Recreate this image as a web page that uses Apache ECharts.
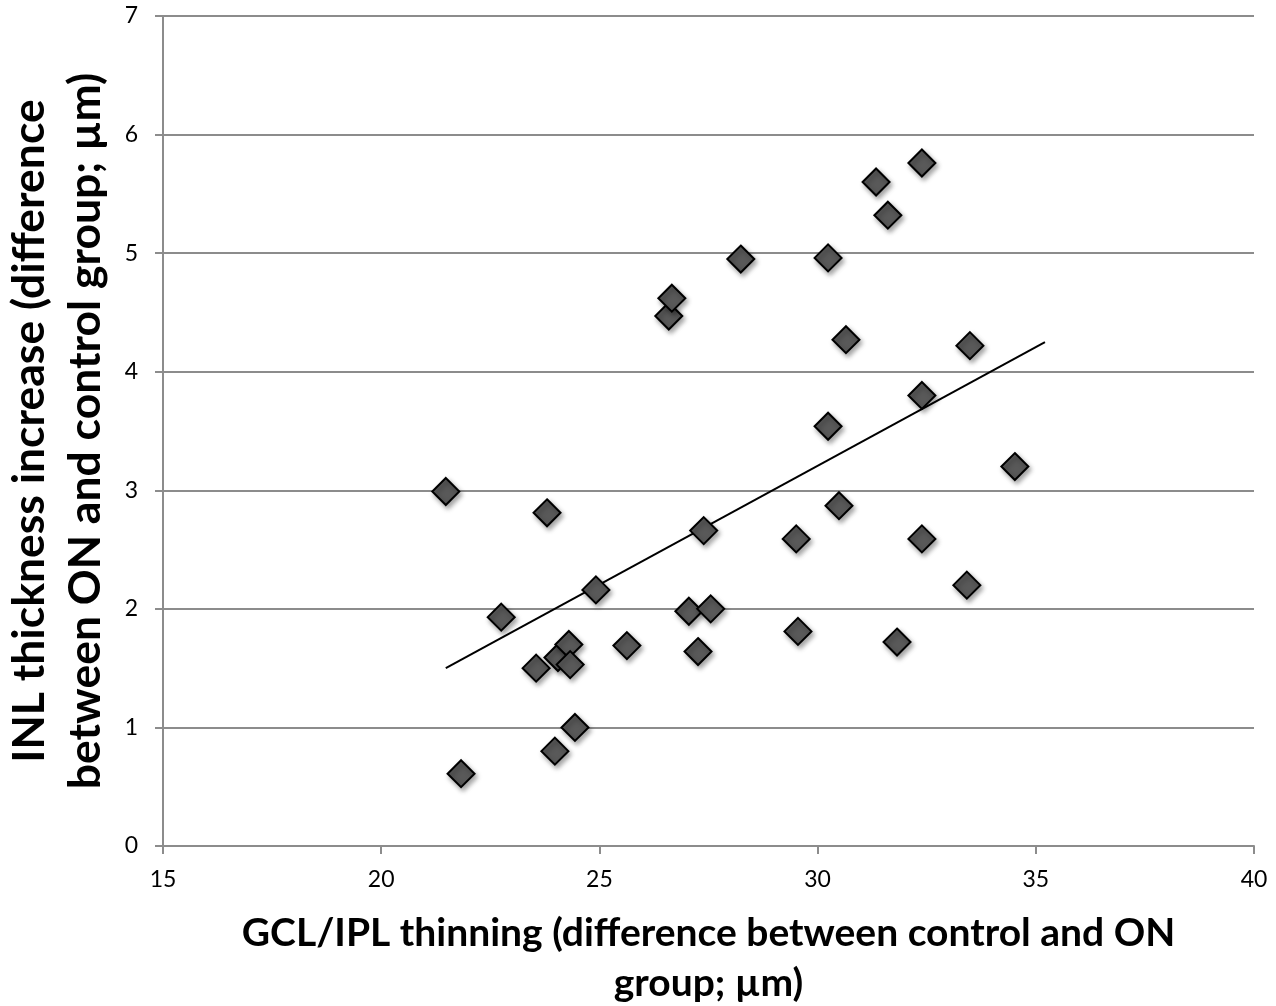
<!DOCTYPE html>
<html>
<head>
<meta charset="utf-8">
<script src="https://cdn.jsdelivr.net/npm/echarts@6/dist/echarts.min.js"></script>
<style>
    html, body { margin: 0; padding: 0; background: #fff; }
    #chart { width: 1276px; height: 1006px; }
</style>
</head>
<body>
<div id="chart"></div>
<script>
// GCL/IPL thinning (x) vs INL thickness increase (y)
var gclThinning = [21.48, 21.83, 22.75, 23.55, 23.80, 23.98, 24.05, 24.30, 24.33, 24.44,
    24.92, 25.63, 26.59, 26.66, 27.05, 27.26, 27.39, 27.55, 28.24, 29.51,
    29.55, 30.24, 30.24, 30.49, 30.65, 31.34, 31.61, 31.82, 32.39, 32.39,
    32.39, 33.42, 33.49, 34.52];
var inlIncrease = [2.99, 0.61, 1.93, 1.50, 2.81, 0.80, 1.59, 1.70, 1.53, 1.00,
    2.16, 1.69, 4.47, 4.62, 1.98, 1.64, 2.66, 2.00, 4.95, 2.59,
    1.81, 4.96, 3.54, 2.87, 4.27, 5.60, 5.32, 1.72, 5.76, 3.80,
    2.59, 2.20, 4.22, 3.20];
// linear trend line end points
var trendX = [21.48, 35.21];
var trendY = [1.50, 4.25];

var xTitle = 'GCL/IPL thinning (difference between control and ON\ngroup; \u00b5m)';
var yTitle = 'INL thickness increase (difference\nbetween ON and control group; \u00b5m)';

var FONT = 'Lato';

var scatterData = [];
for (var i = 0; i < gclThinning.length; i++) {
    scatterData.push([gclThinning[i], inlIncrease[i]]);
}
var trendData = [];
for (var j = 0; j < trendX.length; j++) {
    trendData.push([trendX[j], trendY[j]]);
}

var myChart = echarts.init(document.getElementById('chart'));
var option = {
    backgroundColor: '#fff',
    animation: false,
    grid: {
        left: 163,
        right: 22,
        top: 16,
        bottom: 160,
        containLabel: false,
        outerBoundsMode: 'none'
    },
    xAxis: {
        type: 'value',
        min: 15,
        max: 40,
        interval: 5,
        name: xTitle,
        nameLocation: 'middle',
        nameGap: 62,
        nameTextStyle: {
            fontFamily: FONT,
            fontWeight: 'bold',
            fontSize: 39,
            color: '#000',
            lineHeight: 50,
            verticalAlign: 'top'
        },
        axisLine: { show: true, lineStyle: { color: '#8c8c8c', width: 2 } },
        axisTick: { show: true, length: 8, lineStyle: { color: '#8c8c8c', width: 2 } },
        axisLabel: { margin: 22, fontFamily: FONT, fontSize: 23, color: '#000' },
        splitLine: { show: false }
    },
    yAxis: {
        type: 'value',
        min: 0,
        max: 7,
        interval: 1,
        name: yTitle,
        nameLocation: 'middle',
        nameRotate: 90,
        nameGap: 42,
        nameTextStyle: {
            fontFamily: FONT,
            fontWeight: 'bold',
            fontSize: 44.5,
            color: '#000',
            lineHeight: 56
        },
        axisLine: { show: true, lineStyle: { color: '#8c8c8c', width: 2 } },
        axisTick: { show: true, length: 8, lineStyle: { color: '#8c8c8c', width: 2 } },
        axisLabel: { margin: 25, fontFamily: FONT, fontSize: 23, color: '#000' },
        splitLine: { show: true, lineStyle: { color: '#8c8c8c', width: 2 } }
    },
    series: [
        {
            type: 'line',
            data: trendData,
            showSymbol: false,
            symbol: 'none',
            z: 3,
            lineStyle: { color: '#000', width: 2 }
        },
        {
            type: 'scatter',
            data: scatterData,
            symbol: 'diamond',
            symbolSize: [27, 27],
            z: 4,
            itemStyle: {
                color: '#595959',
                borderColor: '#000',
                borderWidth: 2,
                opacity: 1,
                shadowBlur: 5,
                shadowOffsetX: 2,
                shadowOffsetY: 3,
                shadowColor: 'rgba(0,0,0,0.35)'
            }
        }
    ]
};
myChart.setOption(option);
</script>
</body>
</html>
